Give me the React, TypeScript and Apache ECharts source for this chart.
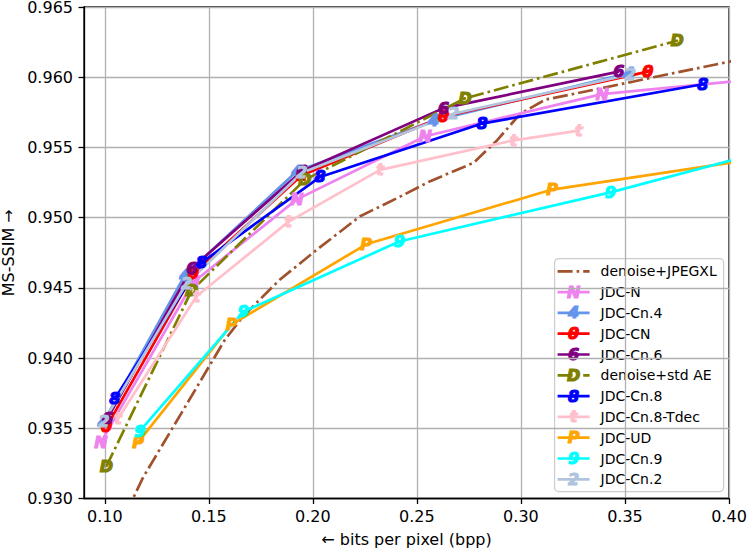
import React, { useEffect, useRef } from "react";
import * as echarts from "echarts";

const seriesNames = [
  "denoise+JPEGXL",
  "JDC-N",
  "JDC-Cn.4",
  "JDC-CN",
  "JDC-Cn.6",
  "denoise+std AE",
  "JDC-Cn.8",
  "JDC-Cn.8-Tdec",
  "JDC-UD",
  "JDC-Cn.9",
  "JDC-Cn.2",
];
const markers = ["", "N", "4", "θ", "6", "D", "8", "t", "P", "9", "2"];
const colors = [
  "#a0522d",
  "#ee82ee",
  "#6495ed",
  "#ff0000",
  "#800080",
  "#808000",
  "#0000ff",
  "#ffc0cb",
  "#ffa500",
  "#00ffff",
  "#b0c4de",
];
const dashDot = [true, false, false, false, false, true, false, false, false, false, false];

// bits per pixel (x) and MS-SSIM (y) per series
const jpegxlBpp = [0.110, 0.1184, 0.1385, 0.1577, 0.1666, 0.1842, 0.2035, 0.2227, 0.2420, 0.2564, 0.2772, 0.2885, 0.2997, 0.3117, 0.3382, 0.3637, 0.410];
const jpegxlSsim = [0.9289, 0.9315, 0.9365, 0.9413, 0.9430, 0.9456, 0.9479, 0.9501, 0.9515, 0.9526, 0.9539, 0.9555, 0.9574, 0.9584, 0.9592, 0.9600, 0.9614];

const jdcNBpp = [0.0981, 0.1425, 0.1923, 0.2540, 0.3390, 0.430];
const jdcNSsim = [0.9340, 0.9454, 0.9513, 0.9558, 0.9588, 0.9601];

const cn4Bpp = [0.0992, 0.1385, 0.1923, 0.2580, 0.3518];
const cn4Ssim = [0.9354, 0.9459, 0.9533, 0.9569, 0.9603];

const cnBpp = [0.1008, 0.1425, 0.1945, 0.2628, 0.3610];
const cnSsim = [0.9351, 0.9460, 0.9530, 0.9572, 0.9604];

const cn6Bpp = [0.1013, 0.1418, 0.1947, 0.2628, 0.3470];
const cn6Ssim = [0.9357, 0.9464, 0.9533, 0.9578, 0.9604];

const stdAeBpp = [0.1008, 0.1417, 0.1962, 0.2732, 0.3751];
const stdAeSsim = [0.9323, 0.9448, 0.9527, 0.9585, 0.9626];

const cn8Bpp = [0.1048, 0.1465, 0.2035, 0.2813, 0.3874];
const cn8Ssim = [0.9371, 0.9468, 0.9529, 0.9567, 0.9595];

const tdecBpp = [0.1064, 0.1441, 0.1882, 0.2323, 0.2965, 0.3278];
const tdecSsim = [0.9357, 0.9444, 0.9497, 0.9534, 0.9555, 0.9562];

const udBpp = [0.1160, 0.1610, 0.2256, 0.3150, 0.450];
const udSsim = [0.9340, 0.9424, 0.9481, 0.9520, 0.9550];

const cn9Bpp = [0.1168, 0.1666, 0.2415, 0.3430, 0.450];
const cn9Ssim = [0.9348, 0.9433, 0.9483, 0.9518, 0.9560];

const cn2Bpp = [0.0995, 0.1393, 0.1947, 0.2676, 0.3526];
const cn2Ssim = [0.9355, 0.9453, 0.9532, 0.9574, 0.9602];

const allBpp = [jpegxlBpp, jdcNBpp, cn4Bpp, cnBpp, cn6Bpp, stdAeBpp, cn8Bpp, tdecBpp, udBpp, cn9Bpp, cn2Bpp];
const allSsim = [jpegxlSsim, jdcNSsim, cn4Ssim, cnSsim, cn6Ssim, stdAeSsim, cn8Ssim, tdecSsim, udSsim, cn9Ssim, cn2Ssim];

const xTicks = [0.1, 0.15, 0.2, 0.25, 0.3, 0.35, 0.4];
const yTicks = [0.93, 0.935, 0.94, 0.945, 0.95, 0.955, 0.96, 0.965];

const FONT = "DejaVu Sans";
const DASH = [15, 4, 2.6, 4];
const LW_LINE = 2.7;

export default function App() {
  const ref = useRef<HTMLDivElement>(null);

  useEffect(() => {
    if (!ref.current) return;
    const chart = echarts.init(ref.current, undefined, { renderer: "svg" });

    const series = seriesNames.map((name, s) => {
      const m = markers[s];
      return {
        name,
        type: "line",
        data: allBpp[s].map((b, i) => [b, allSsim[s][i]]),
        symbol: m ? "circle" : "none",
        symbolSize: 2,
        itemStyle: { color: colors[s] },
        lineStyle: {
          color: colors[s],
          width: LW_LINE,
          type: dashDot[s] ? DASH : "solid",
          cap: "butt",
        },
        label: {
          show: !!m,
          position: "inside",
          formatter: m,
          color: colors[s],
          fontSize: 16,
          fontStyle: "italic",
          fontWeight: "bold",
          fontFamily: FONT,
          textBorderColor: colors[s],
          textBorderWidth: 1.1,
        },
        emphasis: { disabled: true },
        silent: true,
        clip: true,
        z: 2,
      };
    });

    // legend drawn as graphic (matplotlib-style box)
    const LX = 554;
    const LY = 258;
    const LW = 169;
    const LH = 233;
    const rowGap = 20.8;
    const legendChildren: any[] = [
      {
        type: "rect",
        shape: { x: 0, y: 0, width: LW, height: LH, r: 4 },
        style: { fill: "rgba(255,255,255,0.85)", stroke: "#cccccc", lineWidth: 1.2 },
      },
    ];
    seriesNames.forEach((name, s) => {
      const cy = 12.7 + s * rowGap;
      legendChildren.push({
        type: "line",
        shape: { x1: 3, y1: cy, x2: 35, y2: cy },
        style: {
          stroke: colors[s],
          lineWidth: LW_LINE,
          lineDash: dashDot[s] ? DASH : null,
        },
      });
      if (markers[s]) {
        legendChildren.push({
          type: "text",
          x: 19,
          y: cy,
          style: {
            text: markers[s],
            fill: colors[s],
            stroke: colors[s],
            lineWidth: 1.1,
            font: `italic bold 16px "${FONT}"`,
            align: "center",
            verticalAlign: "middle",
          },
        });
      }
      legendChildren.push({
        type: "text",
        x: 46,
        y: cy,
        style: {
          text: name,
          fill: "#000",
          font: `14px "${FONT}"`,
          align: "left",
          verticalAlign: "middle",
        },
      });
    });

    chart.setOption({
      animation: false,
      backgroundColor: "#ffffff",
      textStyle: { fontFamily: FONT, color: "#000" },
      grid: {
        left: 84,
        right: 18,
        top: 7,
        bottom: 53.5,
        show: true,
        borderColor: "#000",
        borderWidth: 1.3,
        backgroundColor: "transparent",
        containLabel: false,
        outerBoundsMode: "none",
      },
      xAxis: {
        type: "value",
        min: 0.09,
        max: 0.4,
        minInterval: 0.05,
        maxInterval: 0.05,
        name: "← bits per pixel (bpp)",
        nameLocation: "middle",
        nameGap: 33,
        nameTextStyle: { fontSize: 16, color: "#000", fontFamily: FONT },
        axisLine: { show: true, lineStyle: { color: "#000", width: 1.3 } },
        axisTick: {
          show: true,
          length: 5.5,
          lineStyle: { color: "#000", width: 1.3 },
          customValues: xTicks,
        },
        axisLabel: {
          fontSize: 16,
          lineHeight: 16,
          color: "#000",
          fontFamily: FONT,
          margin: 10,
          customValues: xTicks,
          formatter: (v: number) => v.toFixed(2),
        },
        splitLine: { show: true, lineStyle: { color: "#b0b0b0", width: 1.3 } },
      },
      yAxis: {
        type: "value",
        min: 0.93,
        max: 0.965,
        interval: 0.005,
        name: "MS-SSIM →",
        nameLocation: "middle",
        nameGap: 67,
        nameTextStyle: { fontSize: 16, lineHeight: 16, color: "#000", fontFamily: FONT },
        axisLine: { show: true, lineStyle: { color: "#000", width: 1.3 } },
        axisTick: {
          show: true,
          length: 5.5,
          lineStyle: { color: "#000", width: 1.3 },
          customValues: yTicks,
        },
        axisLabel: {
          fontSize: 16,
          lineHeight: 14,
          color: "#000",
          fontFamily: FONT,
          margin: 11,
          customValues: yTicks,
          formatter: (v: number) => v.toFixed(3),
        },
        splitLine: { show: true, lineStyle: { color: "#b0b0b0", width: 1.3 } },
      },
      series,
      graphic: [
        {
          type: "group",
          left: LX,
          top: LY,
          z: 100,
          silent: true,
          children: legendChildren,
        },
      ],
    });

    return () => {
      chart.dispose();
    };
  }, []);

  return (
    <div
      ref={ref}
      style={{ position: "fixed", left: 0, top: 0, width: 747, height: 552, background: "#fff" }}
    />
  );
}
